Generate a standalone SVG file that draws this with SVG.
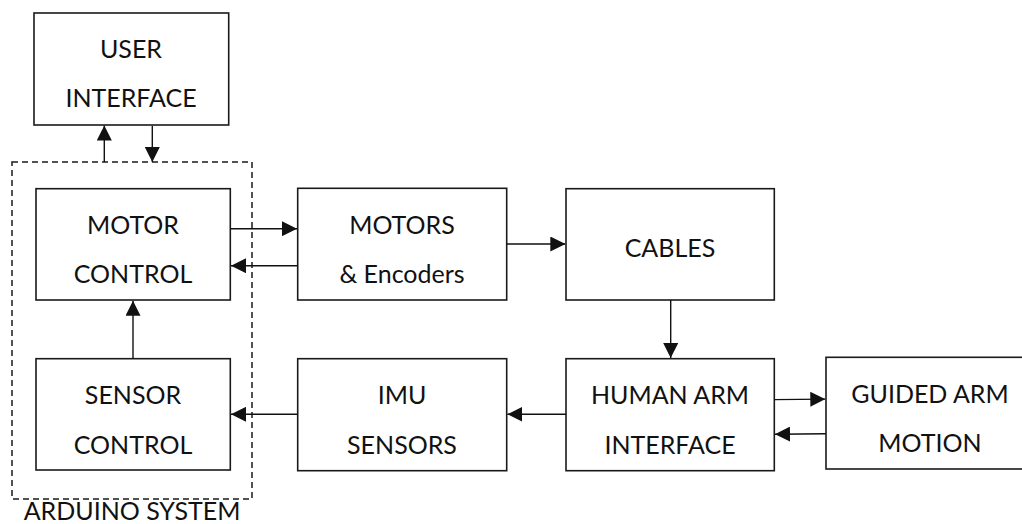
<svg xmlns="http://www.w3.org/2000/svg" width="1022" height="524" viewBox="0 0 1022 524">
<style>
.box{fill:#fff;stroke:#1a1a1a;stroke-width:1.6}
.lbl{font-family:Lato,"Liberation Sans",sans-serif;font-size:25px;fill:#111;text-anchor:middle}
.con{stroke:#111;stroke-width:1.4;fill:none;marker-end:url(#ah)}
.dash{fill:none;stroke:#1a1a1a;stroke-width:1.5;stroke-dasharray:6 4}
</style>
<defs>
<marker id="ah" markerUnits="userSpaceOnUse" markerWidth="15" markerHeight="15" refX="15" refY="7.5" orient="auto">
<path d="M0,0 L15,7.5 L0,15 z" fill="#111"/>
</marker>
</defs>
<rect width="1022" height="524" fill="#fff"/>
<g id="arduino-system">
<rect class="dash" x="12" y="162" width="240" height="337"/>
<text class="lbl" x="132" y="520">ARDUINO SYSTEM</text>
</g>
<g id="user-interface">
<rect class="box" x="34" y="13" width="194.7" height="112"/>
<text class="lbl" x="131" y="58">USER</text>
<text class="lbl" x="131" y="107">INTERFACE</text>
</g>
<g id="motor-control">
<rect class="box" x="36" y="188.7" width="194.3" height="111.3"/>
<text class="lbl" x="133" y="234">MOTOR</text>
<text class="lbl" x="133" y="283">CONTROL</text>
</g>
<g id="motors">
<rect class="box" x="297.7" y="188.3" width="209" height="111.7"/>
<text class="lbl" x="402" y="234">MOTORS</text>
<text class="lbl" x="402" y="283">&amp; Encoders</text>
</g>
<g id="cables">
<rect class="box" x="566" y="188.7" width="208.3" height="111.3"/>
<text class="lbl" x="670" y="257">CABLES</text>
</g>
<g id="sensor-control">
<rect class="box" x="36" y="358.7" width="194.3" height="111.3"/>
<text class="lbl" x="133" y="404">SENSOR</text>
<text class="lbl" x="133" y="454">CONTROL</text>
</g>
<g id="imu-sensors">
<rect class="box" x="297.7" y="358.7" width="209" height="112"/>
<text class="lbl" x="402" y="404">IMU</text>
<text class="lbl" x="402" y="454">SENSORS</text>
</g>
<g id="human-arm-interface">
<rect class="box" x="566" y="358.7" width="208.3" height="112"/>
<text class="lbl" x="670" y="404">HUMAN ARM</text>
<text class="lbl" x="670" y="454">INTERFACE</text>
</g>
<g id="guided-arm-motion">
<rect class="box" x="826" y="357.3" width="208" height="111.7"/>
<text class="lbl" x="930" y="403">GUIDED ARM</text>
<text class="lbl" x="930" y="452">MOTION</text>
</g>
<g id="connectors">
<line class="con" x1="104.3" y1="162" x2="104.3" y2="125.5"/>
<line class="con" x1="152.3" y1="126" x2="152.3" y2="162"/>
<line class="con" x1="230.3" y1="228.7" x2="297" y2="228.7"/>
<line class="con" x1="297.7" y1="265.7" x2="231" y2="265.7"/>
<line class="con" x1="506.7" y1="244" x2="565.3" y2="244"/>
<line class="con" x1="670.7" y1="300" x2="670.7" y2="358"/>
<line class="con" x1="774.3" y1="399.6" x2="825.3" y2="399.1"/>
<line class="con" x1="826" y1="433.8" x2="775" y2="434.2"/>
<line class="con" x1="566" y1="414.3" x2="507.4" y2="414.3"/>
<line class="con" x1="297.7" y1="414.3" x2="231" y2="414.3"/>
<line class="con" x1="133" y1="358.7" x2="133" y2="300.7"/>
</g>
</svg>
